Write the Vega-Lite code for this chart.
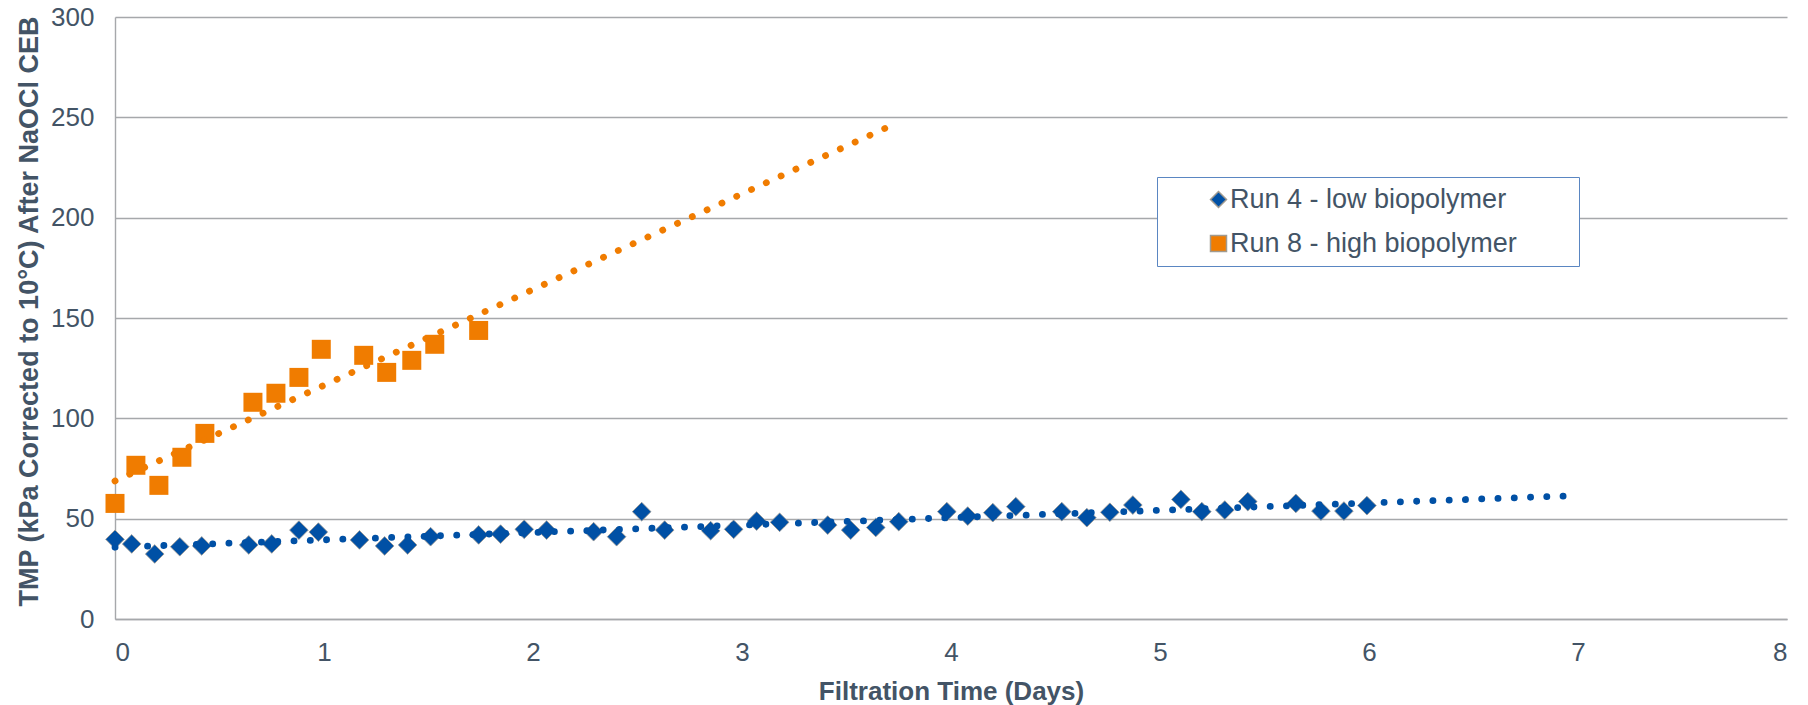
{
  "$schema": "https://vega.github.io/schema/vega-lite/v6.json",
  "width": 1672,
  "height": 602,
  "autosize": {"type": "none"},
  "padding": {"left": 115, "top": 17, "right": 21, "bottom": 86},
  "background": "white",
  "config": {
    "font": "Liberation Sans",
    "view": {"stroke": null},
    "axis": {
      "labelFont": "Liberation Sans",
      "labelFontSize": 26,
      "labelColor": "#435466",
      "titleFont": "Liberation Sans",
      "titleFontSize": 26,
      "titleFontWeight": "bold",
      "titleColor": "#435466",
      "domainColor": "#a6a8ab",
      "domainWidth": 1.4,
      "gridColor": "#a6a8ab",
      "gridWidth": 1.4,
      "ticks": false,
      "tickSize": 0
    }
  },
  "data": {
    "values": [
      {"run": "Run 4 - low biopolymer", "days": 0.0, "tmp": 39.7},
      {"run": "Run 4 - low biopolymer", "days": 0.08, "tmp": 37.4},
      {"run": "Run 4 - low biopolymer", "days": 0.19, "tmp": 32.4},
      {"run": "Run 4 - low biopolymer", "days": 0.31, "tmp": 36.0},
      {"run": "Run 4 - low biopolymer", "days": 0.415, "tmp": 36.4},
      {"run": "Run 4 - low biopolymer", "days": 0.64, "tmp": 36.9},
      {"run": "Run 4 - low biopolymer", "days": 0.75, "tmp": 37.4},
      {"run": "Run 4 - low biopolymer", "days": 0.88, "tmp": 44.3},
      {"run": "Run 4 - low biopolymer", "days": 0.973, "tmp": 43.3},
      {"run": "Run 4 - low biopolymer", "days": 1.17, "tmp": 39.4},
      {"run": "Run 4 - low biopolymer", "days": 1.29, "tmp": 36.4},
      {"run": "Run 4 - low biopolymer", "days": 1.40, "tmp": 36.9},
      {"run": "Run 4 - low biopolymer", "days": 1.51, "tmp": 41.0},
      {"run": "Run 4 - low biopolymer", "days": 1.74, "tmp": 41.9},
      {"run": "Run 4 - low biopolymer", "days": 1.845, "tmp": 42.3},
      {"run": "Run 4 - low biopolymer", "days": 1.958, "tmp": 44.7},
      {"run": "Run 4 - low biopolymer", "days": 2.065, "tmp": 44.3},
      {"run": "Run 4 - low biopolymer", "days": 2.29, "tmp": 43.5},
      {"run": "Run 4 - low biopolymer", "days": 2.40, "tmp": 41.0},
      {"run": "Run 4 - low biopolymer", "days": 2.52, "tmp": 53.5},
      {"run": "Run 4 - low biopolymer", "days": 2.63, "tmp": 44.3},
      {"run": "Run 4 - low biopolymer", "days": 2.85, "tmp": 44.0},
      {"run": "Run 4 - low biopolymer", "days": 2.96, "tmp": 44.7},
      {"run": "Run 4 - low biopolymer", "days": 3.07, "tmp": 48.8},
      {"run": "Run 4 - low biopolymer", "days": 3.18, "tmp": 48.2},
      {"run": "Run 4 - low biopolymer", "days": 3.41, "tmp": 46.8},
      {"run": "Run 4 - low biopolymer", "days": 3.52, "tmp": 44.3},
      {"run": "Run 4 - low biopolymer", "days": 3.64, "tmp": 45.6},
      {"run": "Run 4 - low biopolymer", "days": 3.75, "tmp": 48.5},
      {"run": "Run 4 - low biopolymer", "days": 3.98, "tmp": 53.5},
      {"run": "Run 4 - low biopolymer", "days": 4.08, "tmp": 51.3},
      {"run": "Run 4 - low biopolymer", "days": 4.20, "tmp": 53.0},
      {"run": "Run 4 - low biopolymer", "days": 4.31, "tmp": 56.0},
      {"run": "Run 4 - low biopolymer", "days": 4.53, "tmp": 53.5},
      {"run": "Run 4 - low biopolymer", "days": 4.65, "tmp": 50.5},
      {"run": "Run 4 - low biopolymer", "days": 4.76, "tmp": 53.2},
      {"run": "Run 4 - low biopolymer", "days": 4.87, "tmp": 56.8},
      {"run": "Run 4 - low biopolymer", "days": 5.10, "tmp": 59.6},
      {"run": "Run 4 - low biopolymer", "days": 5.20, "tmp": 53.5},
      {"run": "Run 4 - low biopolymer", "days": 5.31, "tmp": 54.3},
      {"run": "Run 4 - low biopolymer", "days": 5.42, "tmp": 58.5},
      {"run": "Run 4 - low biopolymer", "days": 5.65, "tmp": 57.6},
      {"run": "Run 4 - low biopolymer", "days": 5.77, "tmp": 53.8},
      {"run": "Run 4 - low biopolymer", "days": 5.88, "tmp": 53.8},
      {"run": "Run 4 - low biopolymer", "days": 5.99, "tmp": 56.5},
      {"run": "Run 8 - high biopolymer", "days": 0.0, "tmp": 57.6},
      {"run": "Run 8 - high biopolymer", "days": 0.10, "tmp": 76.6},
      {"run": "Run 8 - high biopolymer", "days": 0.21, "tmp": 66.6},
      {"run": "Run 8 - high biopolymer", "days": 0.32, "tmp": 80.6},
      {"run": "Run 8 - high biopolymer", "days": 0.43, "tmp": 92.5},
      {"run": "Run 8 - high biopolymer", "days": 0.66, "tmp": 108.0},
      {"run": "Run 8 - high biopolymer", "days": 0.77, "tmp": 112.5},
      {"run": "Run 8 - high biopolymer", "days": 0.88, "tmp": 120.4},
      {"run": "Run 8 - high biopolymer", "days": 0.987, "tmp": 134.4},
      {"run": "Run 8 - high biopolymer", "days": 1.19, "tmp": 131.4},
      {"run": "Run 8 - high biopolymer", "days": 1.30, "tmp": 122.9},
      {"run": "Run 8 - high biopolymer", "days": 1.42, "tmp": 128.9},
      {"run": "Run 8 - high biopolymer", "days": 1.53, "tmp": 136.9},
      {"run": "Run 8 - high biopolymer", "days": 1.74, "tmp": 143.8}
    ]
  },
  "encoding": {
    "x": {
      "field": "days",
      "type": "quantitative",
      "scale": {"domain": [0, 8], "nice": false, "zero": false},
      "axis": {
        "values": [0, 1, 2, 3, 4, 5, 6, 7, 8],
        "grid": false,
        "labelPadding": 20,
        "title": "Filtration Time (Days)",
        "titleY": 80,
        "titleBaseline": "alphabetic"
      }
    },
    "y": {
      "field": "tmp",
      "type": "quantitative",
      "scale": {"domain": [0, 300], "nice": false},
      "axis": {
        "values": [0, 50, 100, 150, 200, 250, 300],
        "grid": true,
        "labelPadding": 21,
        "title": "TMP (kPa Corrected to 10°C) After NaOCl CEB",
        "titleFontSize": 27,
        "titleX": -72,
        "titleY": 294
      }
    }
  },
  "layer": [
    {
      "transform": [{"filter": "datum.run === 'Run 4 - low biopolymer'"}],
      "mark": {"type": "point", "filled": true, "opacity": 1, "size": 350, "stroke": "#a09a90", "strokeWidth": 1, "strokeOpacity": 0.8},
      "encoding": {
        "color": {
          "field": "run",
          "type": "nominal",
          "scale": {"domain": ["Run 4 - low biopolymer", "Run 8 - high biopolymer"], "range": ["#0050a5", "#f07c00"]},
          "legend": {
            "title": null,
            "orient": "none",
            "legendX": 1042,
            "legendY": 160,
            "strokeColor": "#5a86c2",
            "fillColor": "white",
            "padding": 9,
            "labelFont": "Liberation Sans",
            "labelFontSize": 27,
            "labelColor": "#435466",
            "labelLimit": 0,
            "symbolSize": 256,
            "symbolOffset": 39,
            "labelOffset": -2,
            "rowPadding": 16,
            "labelExpr": "datum.label + '       \u200b'"
          }
        },
        "shape": {
          "field": "run",
          "type": "nominal",
          "scale": {"domain": ["Run 4 - low biopolymer", "Run 8 - high biopolymer"], "range": ["diamond", "square"]},
          "legend": {
            "title": null,
            "orient": "none",
            "legendX": 1042,
            "legendY": 160,
            "strokeColor": "#5a86c2",
            "fillColor": "white",
            "padding": 9,
            "labelFont": "Liberation Sans",
            "labelFontSize": 27,
            "labelColor": "#435466",
            "labelLimit": 0,
            "symbolSize": 256,
            "symbolOffset": 39,
            "labelOffset": -2,
            "rowPadding": 16,
            "labelExpr": "datum.label + '       \u200b'"
          }
        }
      }
    },
    {
      "transform": [{"filter": "datum.run === 'Run 8 - high biopolymer'"}],
      "mark": {"type": "point", "filled": true, "opacity": 1, "size": 361},
      "encoding": {
        "color": {"field": "run", "type": "nominal"},
        "shape": {"field": "run", "type": "nominal"}
      }
    },
    {
      "transform": [
        {"filter": "datum.run === 'Run 4 - low biopolymer'"},
        {"regression": "tmp", "on": "days", "extent": [0, 6.94]}
      ],
      "mark": {"type": "line", "color": "#0050a5", "strokeWidth": 6.8, "strokeDash": [0.1, 16.18], "strokeCap": "round"},
      "encoding": {}
    },
    {
      "transform": [
        {"filter": "datum.run === 'Run 8 - high biopolymer'"},
        {"regression": "tmp", "on": "days", "extent": [0, 3.7]}
      ],
      "mark": {"type": "line", "color": "#f07c00", "strokeWidth": 6.8, "strokeDash": [0.1, 16.18], "strokeCap": "round"},
      "encoding": {}
    }
  ]
}
